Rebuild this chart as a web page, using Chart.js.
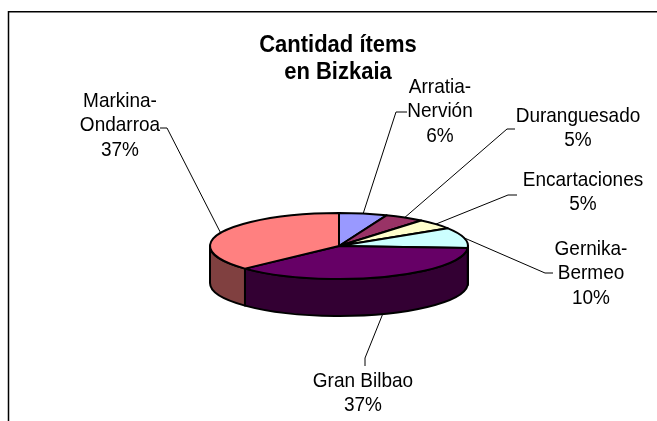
<!DOCTYPE html>
<html>
<head>
<meta charset="utf-8">
<script src="https://cdn.jsdelivr.net/npm/chart.js@4.4.1/dist/chart.umd.min.js"></script>
<style>
  html, body { margin: 0; padding: 0; background: #ffffff; }
  #wrap { width: 657px; height: 421px; }
</style>
</head>
<body>
<div id="wrap"><canvas id="c" width="657" height="421"></canvas></div>
<script>
// ---- data ----
const categories = ['Arratia-Nervión', 'Duranguesado', 'Encartaciones', 'Gernika-Bermeo', 'Gran Bilbao', 'Markina-Ondarroa'];
const shares = [6, 5, 5, 10, 37, 37];
const titleLines = ['Cantidad ítems', 'en Bizkaia'];

// ---- styles ----
const topColors  = ['#9999FF', '#993366', '#FFFFCC', '#CCFFFF', '#660066', '#FF8080'];
const sideColors = ['#4D4D80', '#4D1A33', '#808066', '#668080', '#330033', '#804040'];

// label layout: text centre x, first baseline y, elbow point, tick end
const labelX     = [440, 578, 583, 591, 363, 120];
const labelY     = [93, 122, 186, 255, 387, 107];
const elbowX     = [396, 507, 508, 545, 365, 167];
const elbowY     = [112, 129, 195, 273, 358, 128];
const tickX      = [407, 515, 517, 553, 365, 160];
const tickY      = [112, 129, 195, 273, 366, 128];

const TILT = 0.256, DEPTH = 0.287;
const FONT = "'Liberation Sans', Arial, sans-serif";

function splitName(n) {
  const i = n.indexOf('-');
  return i >= 0 ? [n.slice(0, i + 1), n.slice(i + 1)] : [n];
}

function tallText(ctx, t, x, y, sy) {
  ctx.save();
  ctx.translate(x, y);
  ctx.scale(1, sy);
  ctx.fillText(t, 0, 0);
  ctx.restore();
}

const pie3d = {
  id: 'pie3d',
  beforeDatasetsDraw(chart) {
    const ctx = chart.ctx;
    const arcs = chart.getDatasetMeta(0).data;
    const cx = arcs[0].x, cy = arcs[0].y, rx = arcs[0].outerRadius;
    const ry = rx * TILT, d = rx * DEPTH;
    ctx.save();
    ctx.lineWidth = 2;
    ctx.lineJoin = 'round';
    ctx.strokeStyle = '#000000';
    // sides (front half only)
    arcs.forEach((a, i) => {
      const s = Math.max(a.startAngle, 0), e = Math.min(a.endAngle, Math.PI);
      if (e <= s) return;
      ctx.beginPath();
      ctx.ellipse(cx, cy, rx, ry, 0, s, e, false);
      ctx.lineTo(cx + rx * Math.cos(e), cy + d + ry * Math.sin(e));
      ctx.ellipse(cx, cy + d, rx, ry, 0, e, s, true);
      ctx.closePath();
      ctx.fillStyle = sideColors[i];
      ctx.fill();
      ctx.stroke();
    });
    // top faces
    arcs.forEach((a, i) => {
      ctx.beginPath();
      ctx.moveTo(cx, cy);
      ctx.ellipse(cx, cy, rx, ry, 0, a.startAngle, a.endAngle, false);
      ctx.closePath();
      ctx.fillStyle = topColors[i];
      ctx.fill();
      ctx.stroke();
    });
    ctx.restore();

    // labels and leader lines
    const total = shares.reduce((p, q) => p + q, 0);
    ctx.save();
    ctx.strokeStyle = '#000000';
    ctx.lineWidth = 1;
    arcs.forEach((a, i) => {
      const mid = (a.startAngle + a.endAngle) / 2;
      let px = cx + rx * Math.cos(mid), py = cy + ry * Math.sin(mid);
      if (Math.sin(mid) > 0) py += d;
      ctx.beginPath();
      ctx.moveTo(px, py);
      ctx.lineTo(elbowX[i], elbowY[i]);
      ctx.lineTo(tickX[i], tickY[i]);
      ctx.stroke();
      const lines = splitName(categories[i]).concat([Math.round(shares[i] / total * 100) + '%']);
      ctx.fillStyle = '#000000';
      ctx.font = '19px ' + FONT;
      ctx.textAlign = 'center';
      ctx.textBaseline = 'alphabetic';
      lines.forEach((t, k) => tallText(ctx, t, labelX[i], labelY[i] + k * 24.3, 1.06));
    });
    // title
    ctx.font = 'bold 22px ' + FONT;
    ctx.textAlign = 'center';
    titleLines.forEach((t, k) => tallText(ctx, t, 338, 52 + k * 26.5, 1.12));
    // frame
    ctx.lineWidth = 1.5;
    ctx.beginPath();
    ctx.moveTo(8.5, 421);
    ctx.lineTo(8.5, 11.75);
    ctx.lineTo(657, 11.75);
    ctx.stroke();
    ctx.restore();
    return false;
  }
};

new Chart(document.getElementById('c'), {
  type: 'pie',
  data: {
    labels: categories,
    datasets: [{ data: shares, backgroundColor: topColors, borderWidth: 0 }]
  },
  options: {
    responsive: false,
    devicePixelRatio: 1,
    animation: false,
    layout: { padding: { left: 210, right: 189, top: 117, bottom: 46 } },
    plugins: { legend: { display: false }, tooltip: { enabled: false }, title: { display: false } }
  },
  plugins: [pie3d]
});
</script>
</body>
</html>
